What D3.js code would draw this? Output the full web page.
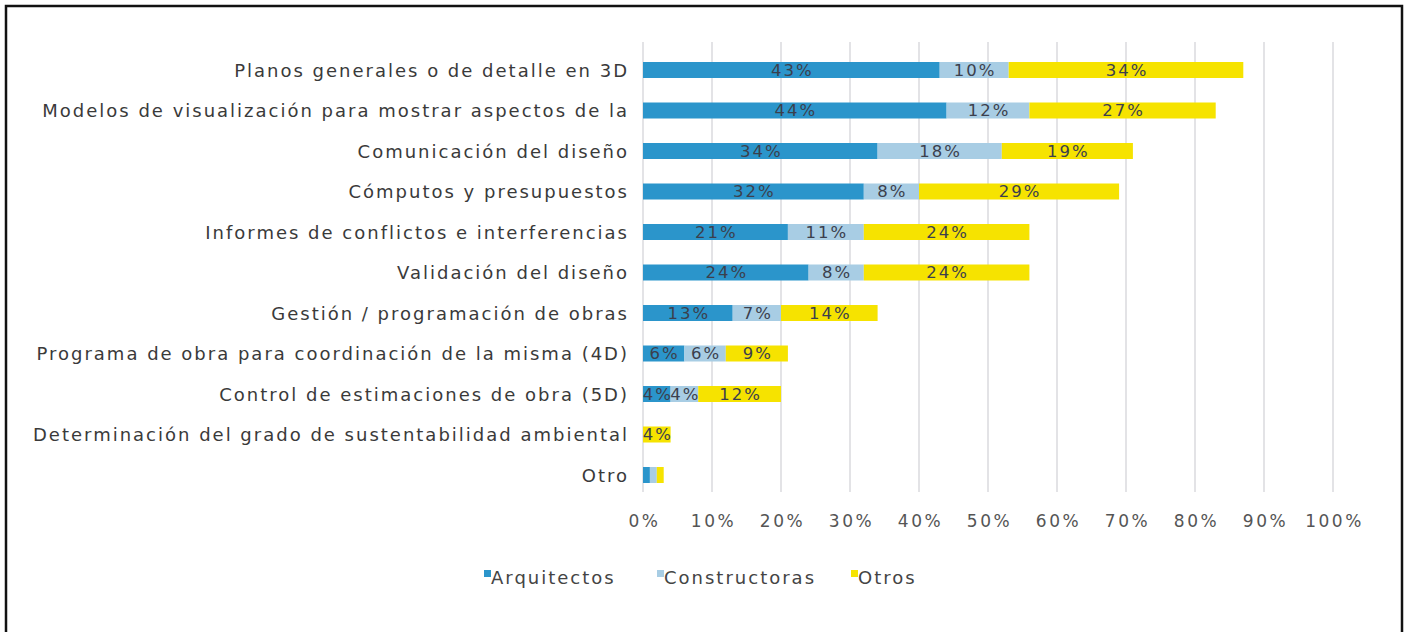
<!DOCTYPE html>
<html>
<head>
<meta charset="utf-8">
<script src="https://cdn.jsdelivr.net/npm/d3@7"></script>
<style>
  body { margin: 0; background: #fff; }
  svg { display: block; }
</style>
</head>
<body>
<div id="chart"></div>
<script>
var categories = [
  "Planos generales o de detalle en 3D",
  "Modelos de visualización para mostrar aspectos de la",
  "Comunicación del diseño",
  "Cómputos y presupuestos",
  "Informes de conflictos e interferencias",
  "Validación del diseño",
  "Gestión / programación de obras",
  "Programa de obra para coordinación de la misma (4D)",
  "Control de estimaciones de obra (5D)",
  "Determinación del grado de sustentabilidad ambiental",
  "Otro"
];
var arquitectos   = [43, 44, 34, 32, 21, 24, 13, 6, 4, 0, 1];
var constructoras = [10, 12, 18, 8, 11, 8, 7, 6, 4, 0, 1];
var otros         = [34, 27, 19, 29, 24, 24, 14, 9, 12, 4, 1];
var seriesNames = ["Arquitectos", "Constructoras", "Otros"];
var colors = ["#2b95cb", "#a8cde4", "#f6e300"];
var ticks = [0, 10, 20, 30, 40, 50, 60, 70, 80, 90, 100];

var width = 1407, height = 632;
var font = "'DejaVu Sans', sans-serif";

var svg = d3.select("#chart").append("svg")
    .attr("width", width)
    .attr("height", height);

// frame
svg.append("path")
    .attr("d", "M6,640 L6,6 L1402,6 L1402,640")
    .attr("fill", "none")
    .attr("stroke", "#111")
    .attr("stroke-width", 2.5);

var x = d3.scaleLinear().domain([0, 100]).range([643, 1333]);
var y = d3.scalePoint().domain(categories).range([70, 475]);
var barH = 16;

// gridlines
svg.append("g").selectAll("line")
    .data(ticks)
    .enter().append("line")
    .attr("x1", function (d) { return x(d); })
    .attr("x2", function (d) { return x(d); })
    .attr("y1", 42)
    .attr("y2", 492)
    .attr("stroke", "#e3e3e6")
    .attr("stroke-width", 2);

// stack
var rows = categories.map(function (c, i) {
  return { cat: c, Arquitectos: arquitectos[i], Constructoras: constructoras[i], Otros: otros[i] };
});
var stack = d3.stack().keys(seriesNames)(rows);

var layer = svg.append("g").selectAll("g")
    .data(stack)
    .enter().append("g")
    .attr("fill", function (d, i) { return colors[i]; });

layer.selectAll("rect")
    .data(function (d) { return d; })
    .enter().append("rect")
    .attr("x", function (d) { return x(d[0]); })
    .attr("width", function (d) { return x(d[1]) - x(d[0]); })
    .attr("y", function (d) { return y(d.data.cat) - barH / 2; })
    .attr("height", barH);

layer.selectAll("text")
    .data(function (d) { return d.filter(function (v) { return v[1] - v[0] >= 2; }); })
    .enter().append("text")
    .attr("x", function (d) { return (x(d[0]) + x(d[1])) / 2 + 1; })
    .attr("y", function (d) { return y(d.data.cat); })
    .attr("dy", "0.36em")
    .attr("text-anchor", "middle")
    .style("font-family", font)
    .style("font-size", "16.5px")
    .style("letter-spacing", "2px")
    .attr("fill", "#3b3f4d")
    .text(function (d) { return (d[1] - d[0]) + "%"; });

// category labels
svg.append("g")
    .attr("transform", "translate(629,0)")
    .call(d3.axisLeft(y).tickSize(0).tickPadding(0))
    .call(function (g) { g.select(".domain").remove(); })
    .selectAll("text")
    .style("font-family", font)
    .style("font-size", "18px")
    .style("letter-spacing", "2px")
    .attr("dy", "0.36em")
    .attr("fill", "#3a3a3a");

// x axis labels
svg.append("g")
    .attr("transform", "translate(1,507)")
    .call(d3.axisBottom(x).tickValues(ticks).tickSize(0).tickPadding(8)
      .tickFormat(function (d) { return d + "%"; }))
    .call(function (g) { g.select(".domain").remove(); })
    .selectAll("text")
    .style("font-family", font)
    .style("font-size", "17px")
    .style("letter-spacing", "2.5px")
    .attr("fill", "#555");

// legend
var legendX = [484, 657, 851];
var legend = svg.append("g").selectAll("g")
    .data(seriesNames)
    .enter().append("g")
    .attr("transform", function (d, i) { return "translate(" + legendX[i] + ",570)"; });
legend.append("rect")
    .attr("width", 7)
    .attr("height", 7)
    .attr("fill", function (d, i) { return colors[i]; });
legend.append("text")
    .attr("x", 7)
    .attr("y", 14)
    .style("font-family", font)
    .style("font-size", "18px")
    .style("letter-spacing", "2px")
    .attr("fill", "#444")
    .text(function (d) { return d; });
</script>
</body>
</html>
